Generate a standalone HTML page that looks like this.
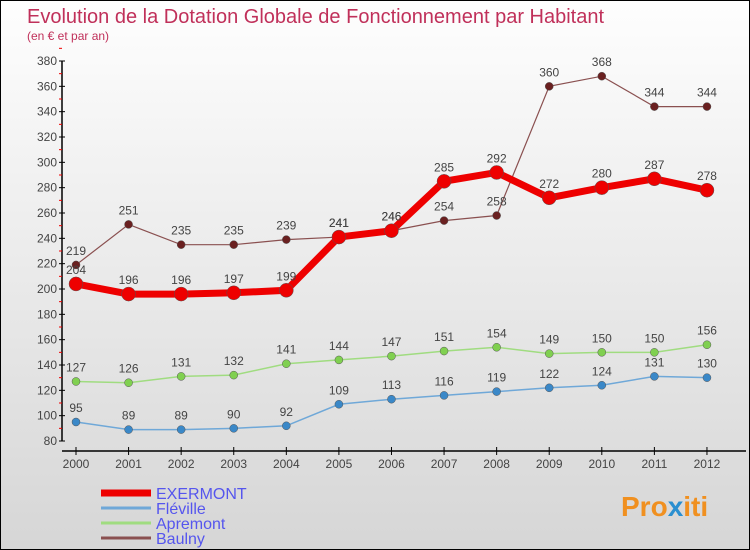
<!DOCTYPE html>
<html><head><meta charset="utf-8"><style>
body{margin:0}
#c{width:750px;height:550px;position:relative;box-sizing:border-box;border:1px solid #000;background:linear-gradient(#fefefe,#f2f2f2 30%,#d6d6d6);overflow:hidden;font-family:"Liberation Sans",sans-serif}
</style></head><body>
<div id="c">
<svg id="s" width="750" height="550" style="position:absolute;left:0;top:0">
<text x="26" y="22" font-size="20" fill="#c0305a">Evolution de la Dotation Globale de Fonctionnement par Habitant</text>
<text x="26" y="39" font-size="12" fill="#c0305a">(en € et par an)</text>
<text x="620" y="515" font-size="28" font-weight="bold" fill="#f09020">Pro<tspan fill="#2a8fd0">x</tspan>iti</text>
</svg>
</div>
<script>
const years=[2000,2001,2002,2003,2004,2005,2006,2007,2008,2009,2010,2011,2012];
const exermont=[204,196,196,197,199,241,246,285,292,272,280,287,278];
const fleville=[95,89,89,90,92,109,113,116,119,122,124,131,130];
const apremont=[127,126,131,132,141,144,147,151,154,149,150,150,156];
const baulny=[219,251,235,235,239,241,246,254,258,360,368,344,344];
const yTicks=[80,100,120,140,160,180,200,220,240,260,280,300,320,340,360,380];
const NS="http://www.w3.org/2000/svg",s=document.getElementById('s');
const X=i=>75+i*52.58, Y=v=>440-(v-80)*380/300;
function el(t,a,p){const e=document.createElementNS(NS,t);for(const k in a)e.setAttribute(k,a[k]);(p||s).appendChild(e);return e;}
let ax=el('line',{x1:61,y1:60,x2:61,y2:440,stroke:'#000','stroke-width':1.5});


let xa=el('line',{x1:61,y1:450,x2:745,y2:450,stroke:'#000','stroke-width':1.5});


yTicks.forEach(v=>{el('line',{x1:58,y1:Y(v),x2:64,y2:Y(v),stroke:'#000'});
el('line',{x1:58,y1:Y(v+10),x2:61,y2:Y(v+10),stroke:'#e00'});
let t=el('text',{x:56,y:Y(v)+4,'font-size':12,'text-anchor':'end',fill:'#444'});t.textContent=v;

});
years.forEach((y,i)=>{el('line',{x1:X(i),y1:446,x2:X(i),y2:454,stroke:'#000'});
let t=el('text',{x:X(i),y:467,'font-size':12,'text-anchor':'middle',fill:'#444'});t.textContent=y;

});
function series(d,col,dot,w,r,name){
const g=el('g',{});


el('polyline',{points:d.map((v,i)=>X(i)+','+Y(v)).join(' '),fill:'none',stroke:col,'stroke-width':w},g);
d.forEach((v,i)=>{let c=el('circle',{cx:X(i),cy:Y(v),r:r,fill:dot,stroke:'#555','stroke-width':0.5},g);


let t=el('text',{x:X(i),y:Y(v)-10,'font-size':12,'text-anchor':'middle',fill:'#444'},g);t.textContent=v;

});}
series(fleville,'#6fa8d8','#3a88c8',1.5,4,'fleville');
series(apremont,'#a0dc80','#80d050',1.5,4,'apremont');
series(baulny,'#8a5050','#6a2020',1.2,4,'baulny');
series(exermont,'#ee0000','#ee0000',7,7,'exermont');
const leg=[['EXERMONT','#ee0000',7],['Fléville','#6fa8d8',3],['Apremont','#a0dc80',3],['Baulny','#8a5050',3]];
leg.forEach((l,i)=>{const y=492+i*15;const g=el('g',{});


el('line',{x1:100,y1:y,x2:150,y2:y,stroke:l[1],'stroke-width':l[2]},g);
let t=el('text',{x:155,y:y+6,'font-size':16,fill:'#5555ee'},g);t.textContent=l[0];});
</script>
</body></html>
